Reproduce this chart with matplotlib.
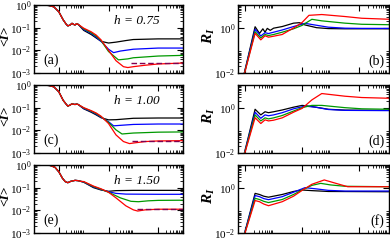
import math
import matplotlib
matplotlib.use("Agg")
import matplotlib.pyplot as plt
from matplotlib.ticker import FixedLocator, FuncFormatter, NullFormatter

plt.rcParams['font.family'] = 'serif'
plt.rcParams['font.serif'] = ['Liberation Serif', 'DejaVu Serif']
plt.rcParams['mathtext.fontset'] = 'custom'
plt.rcParams['mathtext.rm'] = 'Liberation Serif'
plt.rcParams['mathtext.it'] = 'Liberation Serif:italic'
plt.rcParams['mathtext.bf'] = 'Liberation Serif:bold'
plt.rcParams['mathtext.bfit'] = 'Liberation Serif:bold:italic'

COLORS = ['black', '#0000ff', '#009900', '#ff0000']
DASH_COLOR = '#800050'

h_labels = ['h = 0.75', 'h = 1.00', 'h = 1.50']
left_tags = ['(a)', '(c)', '(e)']
right_tags = ['(b)', '(d)', '(f)']

# ---- <I> panels: shared head, then one tail per curve (black, blue, green, red)
head_t = [[0.1, 0.25, 0.4, 0.63, 1.0, 1.5, 2.0, 2.3, 2.8, 3.4, 4.0, 4.5, 5.2, 6.0],
          [0.1, 0.25, 0.4, 0.63, 1.0, 1.5, 2.0, 2.3, 2.8, 3.4, 4.0, 4.5, 5.2, 6.0],
          [0.1, 0.25, 0.45, 0.7, 1.0, 1.4, 1.8, 2.3, 3.0, 4.5, 6.0, 7.6]]
head_I = [[1.0, 0.99, 0.95, 0.83, 0.5, 0.22, 0.14, 0.12, 0.13, 0.155, 0.138, 0.132, 0.15, 0.14],
          [1.0, 0.99, 0.95, 0.83, 0.5, 0.21, 0.14, 0.117, 0.13, 0.148, 0.141, 0.138, 0.145, 0.138],
          [1.0, 0.99, 0.955, 0.79, 0.5, 0.26, 0.186, 0.166, 0.19, 0.21, 0.204, 0.19]]

tail_t = [
    [[10, 20, 32, 50, 100, 200, 500, 1000, 1e4, 1e5],
     [10, 20, 32, 50, 100, 160, 300, 1000, 1e4, 1e5],
     [10, 20, 32, 50, 100, 250, 600, 1000, 1e4, 1e5],
     [10, 20, 32, 50, 100, 200, 400, 600, 1000, 3000, 1e4, 1e5]],
    [[10, 20, 32, 50, 100, 200, 500, 1000, 1e4, 1e5],
     [10, 20, 32, 50, 100, 160, 300, 1000, 1e4, 1e5],
     [10, 20, 32, 50, 100, 200, 350, 1000, 1e4, 1e5],
     [10, 20, 32, 50, 100, 200, 400, 700, 1000, 3000, 1e4, 1e5]],
    [[10, 25, 50, 100, 200, 1000, 1e4, 1e5],
     [10, 25, 50, 100, 200, 500, 1e4, 1e5],
     [10, 25, 50, 100, 300, 800, 1600, 4000, 1e4, 1e5],
     [10, 25, 50, 100, 200, 500, 1000, 1500, 3000, 1e4, 1e5]],
]
tail_I = [
    [[0.076, 0.05, 0.035, 0.025, 0.021, 0.023, 0.027, 0.030, 0.032, 0.032],
     [0.083, 0.056, 0.038, 0.025, 0.0112, 0.0079, 0.0093, 0.0112, 0.0126, 0.0126],
     [0.089, 0.06, 0.042, 0.027, 0.0089, 0.0038, 0.0042, 0.0047, 0.0056, 0.006],
     [0.095, 0.066, 0.047, 0.029, 0.0100, 0.0035, 0.0019, 0.00174, 0.0019, 0.0022, 0.0025, 0.00275]],
    [[0.089, 0.063, 0.048, 0.036, 0.029, 0.0295, 0.032, 0.034, 0.035, 0.035],
     [0.093, 0.068, 0.052, 0.038, 0.024, 0.0158, 0.0166, 0.0182, 0.019, 0.019],
     [0.098, 0.071, 0.055, 0.04, 0.0224, 0.0105, 0.0069, 0.0076, 0.0083, 0.0085],
     [0.1, 0.074, 0.058, 0.042, 0.02, 0.0063, 0.0032, 0.0026, 0.00275, 0.0032, 0.0034, 0.0035]],
    [[0.174, 0.1, 0.079, 0.069, 0.074, 0.076, 0.076, 0.076],
     [0.178, 0.107, 0.083, 0.066, 0.056, 0.052, 0.051, 0.051],
     [0.182, 0.112, 0.085, 0.063, 0.0355, 0.025, 0.024, 0.0263, 0.0275, 0.028],
     [0.186, 0.117, 0.089, 0.063, 0.0355, 0.0158, 0.0105, 0.0093, 0.0105, 0.0112, 0.0112]],
]
dash_t = [[800, 1e5], [870, 1e5], [1400, 1e5]]
dash_I = [[0.0027, 0.0027], [0.0034, 0.0034], [0.0112, 0.0112]]

# ---- R_I panels
r_x = [
    [[0.0079, 0.0224, 0.032, 0.042, 0.05, 0.06, 0.076, 0.1, 0.2, 0.5, 0.8, 1.26, 3.2, 8.3, 32, 125, 1120],
     [0.0079, 0.0224, 0.0355, 0.05, 0.066, 0.1, 0.2, 0.5, 1.26, 2.2, 8.3, 32, 125, 1120],
     [0.0079, 0.0224, 0.0355, 0.05, 0.066, 0.1, 0.2, 0.5, 1.0, 2.2, 4.9, 32, 125, 1120],
     [0.0079, 0.0224, 0.0355, 0.05, 0.066, 0.1, 0.2, 0.56, 1.0, 1.74, 4.9, 32, 125, 1120]],
    [[0.0079, 0.0224, 0.0355, 0.05, 0.066, 0.1, 0.2, 0.5, 1.0, 2.2, 8.3, 32, 1120],
     [0.0079, 0.0224, 0.0355, 0.05, 0.066, 0.1, 0.2, 0.5, 1.26, 3.0, 8.3, 32, 1120],
     [0.0079, 0.0224, 0.0355, 0.05, 0.066, 0.1, 0.2, 0.5, 1.0, 2.2, 4.9, 32, 125, 1120],
     [0.0079, 0.0224, 0.0355, 0.05, 0.066, 0.1, 0.2, 0.5, 1.0, 2.2, 4.9, 32, 125, 1120]],
    [[0.0079, 0.0224, 0.032, 0.045, 0.066, 0.2, 0.5, 1.0, 2.2, 8.3, 1120],
     [0.0079, 0.0224, 0.032, 0.045, 0.066, 0.2, 0.5, 1.26, 3.0, 8.3, 32, 1120],
     [0.0079, 0.0224, 0.032, 0.045, 0.066, 0.2, 0.5, 1.0, 2.2, 4.5, 10, 32, 1120],
     [0.0079, 0.0224, 0.032, 0.045, 0.066, 0.2, 0.5, 1.0, 2.2, 6.0, 20, 40, 1120]],
]
r_val = [
    [[0.004, 1.1, 0.56, 0.89, 0.63, 0.93, 0.76, 0.95, 1.12, 1.58, 1.66, 1.32, 1.0, 0.91, 0.89, 0.89, 0.89],
     [0.004, 0.85, 0.43, 0.6, 0.55, 0.63, 0.79, 1.12, 1.55, 1.38, 1.05, 0.95, 0.93, 0.93],
     [0.004, 0.66, 0.355, 0.5, 0.45, 0.5, 0.63, 0.89, 1.26, 2.34, 2.0, 1.58, 1.41, 1.35],
     [0.004, 0.56, 0.29, 0.44, 0.38, 0.42, 0.5, 1.05, 1.7, 3.5, 3.8, 3.1, 2.6, 2.35]],
    [[0.004, 0.85, 0.48, 0.66, 0.6, 0.66, 0.79, 1.05, 1.26, 1.12, 0.85, 0.78, 0.76],
     [0.004, 0.63, 0.34, 0.48, 0.44, 0.48, 0.6, 0.89, 1.17, 1.05, 0.83, 0.76, 0.74],
     [0.004, 0.48, 0.26, 0.355, 0.32, 0.355, 0.45, 0.71, 1.0, 1.26, 1.26, 1.0, 0.89, 0.85],
     [0.004, 0.36, 0.2, 0.29, 0.26, 0.28, 0.355, 0.63, 0.93, 2.2, 4.2, 3.2, 2.8, 2.6]],
    [[0.004, 0.56, 0.5, 0.42, 0.38, 0.5, 0.68, 0.79, 0.74, 0.68, 0.66],
     [0.004, 0.45, 0.4, 0.33, 0.295, 0.4, 0.63, 1.0, 0.89, 0.76, 0.71, 0.71],
     [0.004, 0.34, 0.3, 0.25, 0.22, 0.3, 0.5, 0.79, 1.26, 1.55, 1.32, 1.15, 1.1],
     [0.004, 0.27, 0.24, 0.19, 0.16, 0.24, 0.42, 0.76, 1.41, 2.19, 1.41, 1.1, 1.1]],
]

fig = plt.figure(figsize=(3.9, 2.42), dpi=100)
W, H = 390.0, 242.0
row_top = [5, 85, 165]
ph = 68


def pow_fmt(v, pos):
    return r'$\mathdefault{10^{%d}}$' % round(math.log10(v))


def style(ax, xmaj, ymaj, yminor):
    ax.set_xscale('log'); ax.set_yscale('log')
    ax.xaxis.set_major_locator(FixedLocator(xmaj))
    ax.xaxis.set_minor_locator(FixedLocator([m * v for v in xmaj for m in range(2, 10)]))
    ax.xaxis.set_major_formatter(NullFormatter())
    ax.xaxis.set_minor_formatter(NullFormatter())
    ax.yaxis.set_major_locator(FixedLocator(ymaj))
    ax.yaxis.set_minor_locator(FixedLocator(yminor))
    ax.yaxis.set_major_formatter(FuncFormatter(pow_fmt))
    ax.yaxis.set_minor_formatter(NullFormatter())
    ax.tick_params(which='both', direction='in', top=True, right=True, labelsize=8, pad=2)
    ax.tick_params(which='major', length=4, width=0.8)
    ax.tick_params(which='minor', length=2, width=0.6)
    for s in ax.spines.values():
        s.set_linewidth(1.0)


for r in range(3):
    bottom = 1 - (row_top[r] + ph) / H
    axl = fig.add_axes([34 / W, bottom, 149 / W, ph / H])
    for c in range(4):
        axl.plot(head_t[r] + tail_t[r][c], head_I[r] + tail_I[r][c], color=COLORS[c], lw=0.9)
    axl.plot(dash_t[r], dash_I[r], color=DASH_COLOR, lw=1.0, ls=(0, (4, 2)))
    axl.set_xlim(0.1, 1e5)
    axl.set_ylim(1e-3, 1)
    style(axl, [1, 100, 1e4], [1e-3, 1e-2, 1e-1, 1],
          [m * 10.0 ** k for k in (-3, -2, -1) for m in range(2, 10)])
    axl.set_ylabel('<I>', fontsize=9.5, fontweight='bold', fontstyle='italic')
    axl.yaxis.set_label_coords(-0.15, 0.55)
    axl.text(0.06, 0.19, left_tags[r], transform=axl.transAxes, fontsize=10, va='center', ha='left')
    axl.text(0.69, 0.76, h_labels[r], transform=axl.transAxes, fontsize=9.5, style='italic',
             va='center', ha='center')

    axr = fig.add_axes([238 / W, bottom, 151 / W, ph / H])
    for c in range(4):
        axr.plot(r_x[r][c], r_val[r][c], color=COLORS[c], lw=0.9)
    axr.set_xlim(10 ** -2.25, 10 ** 3.05)
    axr.set_ylim(1e-2, 10)
    style(axr, [1e-2, 1, 100], [1e-2, 1, 100],
          [m * 10.0 ** k for k in (-2, 0) for m in range(2, 10)])
    axr.set_ylabel(r'$\mathbfit{R}_{\mathbfit{I}}$', fontsize=11)
    axr.yaxis.set_label_coords(-0.14, 0.55)
    axr.text(0.97, 0.18, right_tags[r], transform=axr.transAxes, fontsize=10, va='center', ha='right')

fig.savefig('out.png', dpi=100)
